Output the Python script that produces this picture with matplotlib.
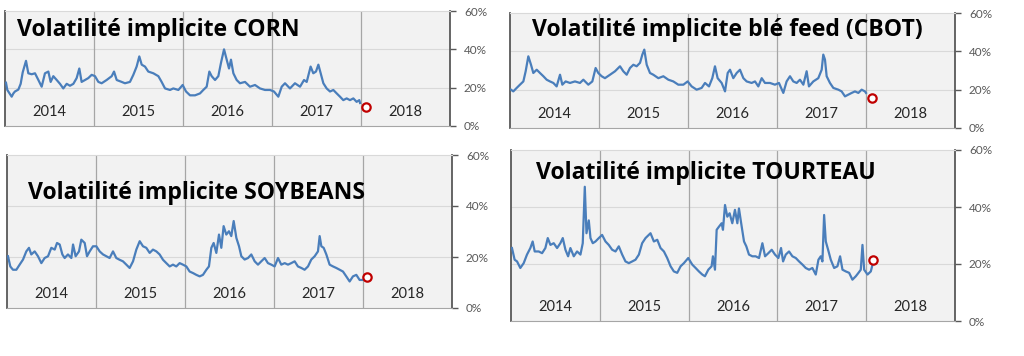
import matplotlib
matplotlib.use('Agg')
import matplotlib.pyplot as plt

plt.rcParams['font.family'] = ['Lato', 'DejaVu Sans']

# temps en années depuis janvier 2014, volatilité en %
corn_t = [0.011, 0.026, 0.075, 0.094, 0.112, 0.15, 0.176, 0.199, 0.236, 0.262,
          0.30, 0.337, 0.375, 0.412, 0.449, 0.487, 0.513, 0.543, 0.581, 0.618,
          0.655, 0.693, 0.73, 0.768, 0.805, 0.835, 0.861, 0.899, 0.936, 0.974,
          1.011, 1.049, 1.086, 1.142, 1.199, 1.225, 1.255, 1.311, 1.348, 1.404,
          1.442, 1.479, 1.509, 1.536, 1.573, 1.61, 1.667, 1.723, 1.76, 1.798,
          1.854, 1.891, 1.948, 1.996, 2.034, 2.079, 2.135, 2.191, 2.228, 2.266,
          2.296, 2.322, 2.36, 2.397, 2.427, 2.461, 2.491, 2.517, 2.539, 2.566,
          2.603, 2.64, 2.697, 2.753, 2.809, 2.865, 2.921, 2.978, 3.022, 3.071,
          3.109, 3.146, 3.202, 3.258, 3.315, 3.36, 3.39, 3.434, 3.464, 3.494,
          3.521, 3.547, 3.577, 3.614, 3.652, 3.689, 3.727, 3.764, 3.801, 3.839,
          3.876, 3.914, 3.951, 3.981, 3.989]
corn_v = [22.6, 18.8, 15.3, 17, 18, 19, 22, 28, 34, 27.5,
          27, 27.5, 24, 20.5, 27.5, 28.4, 23, 26, 24, 22,
          19.6, 22, 21, 22, 25, 30, 23, 24, 25, 26.7,
          26, 23, 22.3, 24, 26, 28.4, 24, 23, 22.3, 23,
          26.7, 31, 36.3, 32, 31, 28.4, 27.5, 26, 23, 19.6,
          18.8, 19.6, 18.8, 21.4, 18, 16, 16, 17, 18.8, 20.5,
          28.4, 26, 24, 26, 33, 40, 34.6, 30, 34.6, 27.5,
          24, 22.3, 23, 20.5, 21.4, 19.6, 18.8, 18.8, 18, 15.3,
          20.5, 22.3, 19.6, 22.3, 20.5, 24, 23, 31, 27.5, 28.4,
          32, 27.5, 22.3, 19.6, 18, 18.8, 17, 15.3, 13.5, 14.4,
          13.5, 14.4, 12.6, 13.5, 12]

ble_t = [0.011, 0.037, 0.075, 0.112, 0.150, 0.176, 0.206, 0.236, 0.262, 0.300,
         0.337, 0.375, 0.412, 0.449, 0.487, 0.524, 0.562, 0.588, 0.625, 0.674,
         0.730, 0.786, 0.824, 0.880, 0.925, 0.962, 0.992, 1.030, 1.067, 1.124,
         1.180, 1.236, 1.273, 1.311, 1.348, 1.386, 1.423, 1.461, 1.487, 1.509,
         1.536, 1.573, 1.610, 1.667, 1.723, 1.779, 1.835, 1.891, 1.948, 1.996,
         2.041, 2.097, 2.153, 2.191, 2.236, 2.273, 2.303, 2.333, 2.378, 2.416,
         2.446, 2.472, 2.509, 2.547, 2.584, 2.622, 2.659, 2.715, 2.753, 2.790,
         2.828, 2.865, 2.921, 2.977, 3.022, 3.071, 3.108, 3.146, 3.183, 3.221,
         3.258, 3.296, 3.333, 3.359, 3.408, 3.464, 3.502, 3.520, 3.539, 3.558,
         3.595, 3.633, 3.689, 3.726, 3.764, 3.801, 3.839, 3.876, 3.914, 3.951,
         3.988, 4.0]
ble_v = [20, 19.1, 20.9, 22.6, 24.3, 29.6, 37.4, 33, 28.7, 30.4,
         28.7, 27, 25.2, 24.3, 23.5, 21.7, 27.8, 22.6, 24.3, 23.5,
         24.3, 23.5, 25.2, 22.6, 24.3, 31.3, 28.7, 27, 26, 27.8,
         29.6, 32.2, 29.6, 27.8, 31.3, 33, 32.2, 34, 38.3, 40.9,
         33, 28.7, 27.8, 26, 27, 25.2, 24.3, 22.6, 22.6, 24.3,
         21.7, 20, 20.9, 23.5, 21.7, 26, 32.2, 26, 23.5, 19.1,
         28.7, 30.4, 26, 28.7, 30.4, 26, 24.3, 23.5, 24.3, 21.7,
         26, 23.5, 23.5, 22.6, 23.5, 18.3, 24.3, 27, 24.3, 23.5,
         25.2, 22.6, 29.6, 21.7, 24.3, 26, 30.4, 38.3, 35.7, 27,
         23.5, 20.9, 20, 19.1, 16.5, 17.4, 18.3, 19.1, 18.3, 20,
         19.1, 18.3]

soy_t = [0.011, 0.037, 0.067, 0.105, 0.142, 0.180, 0.217, 0.247, 0.273, 0.311,
         0.348, 0.386, 0.423, 0.461, 0.498, 0.536, 0.562, 0.592, 0.622, 0.648,
         0.685, 0.723, 0.742, 0.771, 0.809, 0.835, 0.873, 0.899, 0.929, 0.966,
         1.004, 1.041, 1.079, 1.116, 1.153, 1.191, 1.228, 1.266, 1.303, 1.341,
         1.378, 1.416, 1.453, 1.491, 1.528, 1.565, 1.603, 1.640, 1.678, 1.715,
         1.753, 1.790, 1.828, 1.865, 1.902, 1.940, 1.977, 2.015, 2.052, 2.090,
         2.127, 2.165, 2.202, 2.240, 2.269, 2.296, 2.322, 2.352, 2.382, 2.408,
         2.434, 2.464, 2.494, 2.520, 2.547, 2.577, 2.607, 2.633, 2.670, 2.708,
         2.745, 2.783, 2.820, 2.857, 2.895, 2.932, 2.970, 3.007, 3.045, 3.082,
         3.120, 3.157, 3.194, 3.232, 3.269, 3.307, 3.344, 3.382, 3.419, 3.457,
         3.494, 3.513, 3.532, 3.558, 3.588, 3.625, 3.663, 3.700, 3.738, 3.775,
         3.812, 3.850, 3.887, 3.925, 3.962, 3.992]
soy_v = [20.3, 16.3, 15, 15, 17, 19, 22.2, 23.6, 21, 22.2,
         20.3, 17.6, 19.6, 20.3, 23.6, 22.9, 25.5, 24.9, 21, 19.6,
         21, 19.6, 24.9, 20.3, 22.2, 26.8, 25.5, 20.3, 22.2, 24.2,
         24.2, 22.2, 21, 20.3, 19.6, 22.2, 19.6, 18.9, 18.3, 17,
         15.7, 18.3, 22.9, 26.2, 24.2, 23.6, 21.6, 22.9, 22.2, 21,
         18.9, 17.6, 16.3, 17, 16.3, 17.6, 17, 16.3, 14.3, 13.7,
         13, 12.4, 13, 15, 16.3, 23.6, 25.5, 21.6, 28.8, 23.6,
         32.1, 28.8, 30.1, 28.2, 34.1, 27.5, 24.2, 20.3, 19, 19.6,
         21, 18.3, 17, 18.3, 19.6, 17.6, 17, 16.3, 19.6, 17,
         17.6, 17, 17.6, 18.3, 16.3, 15.7, 15, 16.3, 19, 20.3,
         22.2, 28.2, 24.2, 23.6, 21, 17, 16.3, 15.7, 15, 14.3,
         12.4, 10.4, 12.4, 13, 11, 11]

tourteau_t = [0.011, 0.041, 0.068, 0.105, 0.143, 0.180, 0.218, 0.244, 0.267, 0.312,
              0.350, 0.387, 0.414, 0.444, 0.481, 0.519, 0.556, 0.583, 0.613, 0.643,
              0.669, 0.707, 0.744, 0.782, 0.808, 0.831, 0.850, 0.876, 0.895, 0.921,
              0.951, 0.989, 1.026, 1.064, 1.101, 1.139, 1.177, 1.214, 1.252, 1.289,
              1.327, 1.365, 1.402, 1.440, 1.477, 1.515, 1.571, 1.609, 1.647, 1.684,
              1.722, 1.759, 1.797, 1.834, 1.872, 1.910, 1.947, 1.996, 2.041, 2.079,
              2.116, 2.154, 2.184, 2.222, 2.259, 2.274, 2.297, 2.316, 2.342, 2.372,
              2.387, 2.410, 2.436, 2.462, 2.492, 2.522, 2.549, 2.567, 2.598, 2.624,
              2.650, 2.680, 2.718, 2.755, 2.793, 2.831, 2.861, 2.898, 2.936, 2.973,
              3.011, 3.041, 3.064, 3.094, 3.131, 3.169, 3.207, 3.244, 3.282, 3.319,
              3.357, 3.394, 3.432, 3.462, 3.488, 3.507, 3.526, 3.545, 3.571, 3.601,
              3.639, 3.676, 3.706, 3.733, 3.770, 3.808, 3.845, 3.883, 3.913, 3.939,
              3.958, 3.977, 4.015, 4.052, 4.071]
tourteau_v = [25.6, 21.5, 20.9, 18.6, 20.3, 23.3, 25.6, 27.9, 24.4, 24.4,
              23.8, 25.6, 29.1, 26.7, 27.3, 25.6, 27.3, 29.1, 25, 22.7,
              25.6, 22.7, 24.4, 23.3, 27.3, 47.1, 30.8, 35.3, 29.1, 27.3,
              27.9, 29.1, 30.2, 27.9, 26.7, 25, 24.4, 26.2, 23.3, 20.9,
              20.3, 20.9, 21.5, 23.3, 27.3, 29.1, 30.8, 27.9, 28.5, 25.6,
              24.4, 22.1, 19.2, 17.4, 16.9, 19.2, 20.3, 22.1, 19.8, 18.6,
              17.4, 16.3, 15.7, 18, 19.2, 22.7, 18, 32, 33.1, 34.3,
              32, 40.7, 36.6, 37.8, 34.3, 39, 34.3, 39.5, 33.1, 27.9,
              26.2, 23.3, 22.7, 22.7, 22.1, 27.3, 22.7, 23.8, 25, 23.3,
              22.1, 25.6, 20.9, 23.3, 24.4, 22.7, 22.1, 20.9, 19.8, 18.6,
              18, 18.6, 16.3, 21.5, 22.7, 20.9, 37.2, 27.9, 25, 21.5,
              18.6, 19.2, 22.7, 18, 17.4, 16.9, 14.5, 15.7, 16.9, 18,
              26.7, 18, 16.3, 17.4, 19.8]

# dernier point (cercle rouge)
last_t = [4.06, 4.07, 4.05, 4.075]
last_v = [10, 15.7, 12, 21.3]

years = [2014, 2015, 2016, 2017, 2018]
titles = ['Volatilité implicite CORN', 'Volatilité implicite blé feed (CBOT)',
          'Volatilité implicite SOYBEANS', 'Volatilité implicite TOURTEAU']

W, H = 1024, 356
fig = plt.figure(figsize=(W / 100, H / 100), dpi=100)

# boîtes en pixels: gauche, haut, droite, bas
boxes = [(5, 11, 450, 126), (510, 13, 955, 128), (7, 155, 452, 308), (511, 150, 955, 321)]
title_pos = [(0.027, 0.78), (0.049, 0.80), (0.048, 0.71), (0.056, 0.83)]
series = [(corn_t, corn_v), (ble_t, ble_v), (soy_t, soy_v), (tourteau_t, tourteau_v)]

for i, (l, t, r, b) in enumerate(boxes):
    ax = fig.add_axes([l / W, 1 - b / H, (r - l) / W, (b - t) / H])
    ax.set_facecolor('#f2f2f2')
    xs = [2014 + x for x in series[i][0]]
    ax.plot(xs, series[i][1], color='#4a7ebb', lw=1.6, zorder=3)
    ax.plot(2014 + last_t[i], last_v[i], 'o', ms=6, mfc='white', mec='#c00000', mew=1.6, zorder=4)

    ax.set_xlim(2014, 2019)
    ax.set_ylim(0, 60)
    ax.yaxis.tick_right()
    ax.set_yticks([0, 20, 40, 60])
    ax.set_yticklabels(['0%', '20%', '40%', '60%'])
    ax.tick_params(axis='y', direction='out', length=4, width=1, color='#595959',
                   labelcolor='#595959', labelsize=8.5, pad=6)
    for y in [20, 40]:
        ax.axhline(y, color='#d9d9d9', lw=0.8, zorder=1)
    for yr in years[1:]:
        ax.axvline(yr, color='#a6a6a6', lw=0.9, zorder=1)

    ax.set_xticks([y + 0.5 for y in years])
    ax.set_xticklabels([str(y) for y in years])
    ax.tick_params(axis='x', length=0, pad=-15, labelsize=10.5, labelcolor='#262626')

    for side in ['left', 'right']:
        ax.spines[side].set_color('#595959')
        ax.spines[side].set_linewidth(1.3)
    ax.spines['bottom'].set_color('#a6a6a6')
    ax.spines['top'].set_color('#d9d9d9')
    ax.spines['top'].set_linewidth(0.8)

    tx, ty = title_pos[i]
    ax.text(tx, ty, titles[i], transform=ax.transAxes, fontsize=16.6, fontweight='bold',
            family=['Open Sans', 'DejaVu Sans'], color='black', va='baseline', ha='left',
            zorder=5)

fig.savefig('out.png', dpi=100)
